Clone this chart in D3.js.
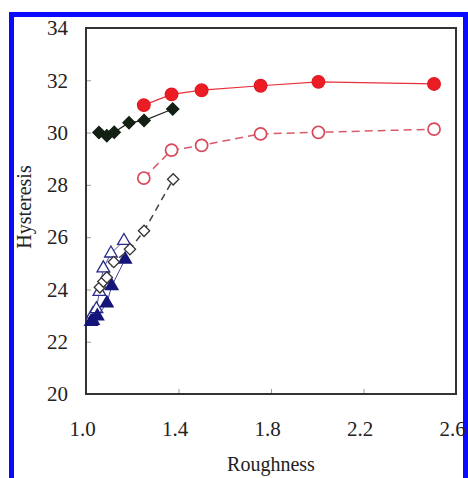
<!DOCTYPE html>
<html>
<head>
<meta charset="utf-8">
<script src="https://cdn.jsdelivr.net/npm/d3@7"></script>
<style>
  body { margin: 0; background: #fff; }
  text { font-family: "Liberation Serif", "Times New Roman", serif; fill: #222; }
</style>
</head>
<body>
<div id="chart-area"></div>
<script>
const SVG_WIDTH = 468;
const SVG_HEIGHT = 478;

// values
const xTicks = [1.0, 1.4, 1.8, 2.2, 2.6];
const yTicks = [20, 22, 24, 26, 28, 30, 32, 34];

const redFilledX = [1.25, 1.37, 1.50, 1.755, 2.005, 2.505];
const redFilledY = [31.05, 31.46, 31.62, 31.79, 31.94, 31.86];

const redOpenX = [1.25, 1.37, 1.50, 1.755, 2.005, 2.505];
const redOpenY = [28.26, 29.33, 29.51, 29.95, 30.01, 30.13];

const blackFilledX = [1.056, 1.09, 1.122, 1.186, 1.251, 1.375];
const blackFilledY = [30.0, 29.88, 30.01, 30.38, 30.46, 30.9];

const blackOpenX = [1.06, 1.075, 1.09, 1.12, 1.19, 1.251, 1.377];
const blackOpenY = [24.08, 24.3, 24.46, 25.05, 25.54, 26.24, 28.21];

const blueOpenX = [1.03, 1.045, 1.058, 1.075, 1.108, 1.164];
const blueOpenY = [23.05, 23.25, 23.91, 24.81, 25.38, 25.86];

const blueFilledX = [1.022, 1.03, 1.049, 1.09, 1.111, 1.169];
const blueFilledY = [22.77, 22.8, 22.98, 23.47, 24.13, 25.15];

const margin = { left: 86, top: 28, right: 12, bottom: 84 };
const W = 456 - margin.left;
const H = 394 - margin.top;

const svg = d3.select("#chart-area").append("svg")
  .attr("width", SVG_WIDTH).attr("height", SVG_HEIGHT);

svg.append("rect").attr("x", 0).attr("y", 0).attr("width", SVG_WIDTH).attr("height", SVG_HEIGHT).attr("fill", "#fff");
// blue frame
svg.append("rect").attr("x", 11.5).attr("y", 14.5).attr("width", 454).attr("height", 500)
  .attr("fill", "none").attr("stroke", "#0a0aff").attr("stroke-width", 5);

const g = svg.append("g").attr("transform", `translate(${margin.left},${margin.top})`);

const x = d3.scaleLinear().domain([1.0, 2.6]).range([0, W]);
const y = d3.scaleLinear().domain([20, 34]).range([H, 0]);

// inner ticks
const xAxis = d3.axisBottom(x).tickValues(xTicks).tickSize(-5).tickFormat(d3.format(".1f")).tickPadding(42);
const yAxis = d3.axisLeft(y).tickValues(yTicks).tickSize(-5).tickPadding(18);

const xg = g.append("g").attr("transform", `translate(0,${H})`).call(xAxis);
const yg = g.append("g").call(yAxis);
[xg, yg].forEach(a => {
  a.select(".domain").remove();
  a.selectAll(".tick line").attr("stroke", "#999").attr("stroke-width", 1);
  a.selectAll(".tick text").attr("font-size", 21).attr("fill", "#222");
});
xg.selectAll(".tick text").attr("dx", -4).attr("dy", 0);
yg.selectAll(".tick text").attr("dy", "0.32em");

// plot frame
g.append("rect").attr("width", W).attr("height", H)
  .attr("fill", "none").attr("stroke", "#333").attr("stroke-width", 2);

svg.append("text").attr("x", 271).attr("y", 471).attr("text-anchor", "middle")
  .attr("font-size", 20).text("Roughness");
svg.append("text").attr("transform", "translate(31,207) rotate(-90)").attr("text-anchor", "middle")
  .attr("font-size", 20).text("Hysteresis");

function pts(xs, ys) { return xs.map((v, i) => [v, ys[i]]); }
const line = d3.line().x(d => x(d[0])).y(d => y(d[1]));

function series(xs, ys, opt) {
  const data = pts(xs, ys);
  g.append("path").datum(data).attr("d", line).attr("fill", "none")
    .attr("stroke", opt.lineColor).attr("stroke-width", opt.lineWidth || 1.2)
    .attr("stroke-dasharray", opt.dash || null);
  g.selectAll(null).data(data).enter().append("path")
    .attr("d", d3.symbol().type(opt.symbol).size(opt.size))
    .attr("transform", d => `translate(${x(d[0])},${y(d[1])}) rotate(${opt.rotate || 0})`)
    .attr("fill", opt.fill).attr("stroke", opt.stroke).attr("stroke-width", opt.strokeWidth || 1.3);
}

series(blueOpenX, blueOpenY, { symbol: d3.symbolTriangle, size: 70, fill: "#fff", stroke: "#2a2a8a", lineColor: "#2a2a8a", lineWidth: 0.8 });
series(blueFilledX, blueFilledY, { symbol: d3.symbolTriangle, size: 70, fill: "#14147a", stroke: "#14147a", lineColor: "#14147a", lineWidth: 0.8 });
series(blackOpenX, blackOpenY, { symbol: d3.symbolSquare, size: 64, rotate: 45, fill: "#fff", stroke: "#333", lineColor: "#444", lineWidth: 1.5, dash: "7,5" });
series(blackFilledX, blackFilledY, { symbol: d3.symbolSquare, size: 74, rotate: 45, fill: "#132013", stroke: "#132013", lineColor: "#222", lineWidth: 1.2 });
series(redOpenX, redOpenY, { symbol: d3.symbolCircle, size: 115, fill: "#fff", stroke: "#d8485a", strokeWidth: 1.7, lineColor: "#d85a68", lineWidth: 1.5, dash: "8,5" });
series(redFilledX, redFilledY, { symbol: d3.symbolCircle, size: 125, fill: "#ec1c24", stroke: "#e01a22", lineColor: "#e8303a", lineWidth: 1.2 });
</script>
</body>
</html>
